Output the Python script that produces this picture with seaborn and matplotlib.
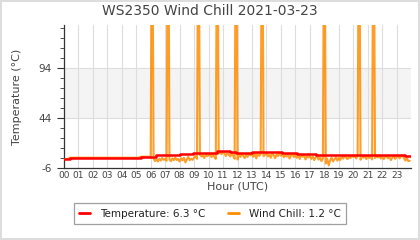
import numpy as np
import pandas as pd
import matplotlib
matplotlib.use("Agg")
import matplotlib.pyplot as plt
import seaborn as sns
from matplotlib.ticker import FixedLocator
from matplotlib.lines import Line2D

# ---- data ----
title = "WS2350 Wind Chill 2021-03-23"
hour_labels = [f"{h:02d}" for h in range(24)]
y_ticks = [-6, 44, 94]

temp_hours = [0, 0.4, 5.3, 6.4, 8.0, 8.9, 10.6, 11.5, 11.9, 13.0, 15.1, 16.1, 17.45, 23.55, 24]
temp_values = [3.0, 4.3, 5.3, 6.7, 7.7, 9.0, 11.0, 10.3, 9.0, 10.0, 9.0, 8.3, 7.3, 6.3, 6.3]

# wind chill, 10 samples per hour
wc_values = [
    3.0, 3.0, 3.0, 3.0, 4.3, 4.3, 4.3, 4.3, 4.3, 4.3,      # 00
    4.3, 4.3, 4.3, 4.3, 4.3, 4.3, 4.3, 4.3, 4.3, 4.3,      # 01
    4.3, 4.3, 4.3, 4.3, 4.3, 4.3, 4.3, 4.3, 4.3, 4.3,      # 02
    4.3, 4.3, 4.3, 4.3, 4.3, 4.3, 4.3, 4.3, 4.3, 4.3,      # 03
    4.3, 4.3, 4.3, 4.3, 4.3, 4.3, 4.3, 4.3, 4.3, 4.3,      # 04
    4.3, 4.3, 4.3, 5.3, 5.3, 5.3, 5.3, 5.3, 5.3, 5.3,      # 05
    4.1, 320, 3.5, 1.0, 2.8, 0.5, 3.2, 1.5, 4.0, 2.2,      # 06
    3.0, 1.2, 320, 2.5, 0.8, 3.6, 1.9, 4.4, 2.0, 3.1,      # 07
    0.5, 3.8, 1.6, 4.2, -0.5, 2.9, 5.1, 1.8, 3.3, 2.1,     # 08
    4.5, 6.0, 3.1, 320, 7.2, 5.5, 6.8, 4.0, 7.5, 5.8,      # 09
    6.5, 8.1, 4.9, 7.0, 5.2, 3.0, 320, 8.5, 9.6, 7.8,      # 10
    10.2, 8.6, 6.0, 9.1, 7.4, 5.5, 8.8, 6.3, 3.2, 320,     # 11
    2.5, 7.6, 5.1, 8.0, 6.2, 3.9, 7.3, 5.0, 8.4, 6.6,      # 12
    7.9, 5.3, 8.8, 3.6, 9.2, 6.1, 8.0, 320, 5.8, 7.1,      # 13
    9.0, 5.6, 7.4, 4.3, 8.5, 6.9, 3.8, 7.7, 5.9, 8.9,      # 14
    6.3, 8.4, 4.7, 7.1, 5.4, 8.2, 3.4, 6.6, 7.9, 5.0,      # 15
    7.0, 4.2, 6.4, 3.0, 7.5, 5.2, 6.9, 2.6, 5.8, 4.5,      # 16
    6.2, 3.1, 5.5, 1.9, 4.6, 6.0, 2.4, 4.8, 0.9, 3.5,      # 17
    320, -1.5, 3.2, -3.4, 1.8, 4.4, 0.6, 2.7, 5.0, 1.3,    # 18
    4.1, 2.0, 5.6, 3.3, 6.0, 4.7, 2.9, 5.3, 3.8, 6.2,      # 19
    5.0, 6.4, 3.5, 5.9, 320, 2.2, 6.1, 4.3, 5.7, 3.0,      # 20
    6.0, 4.1, 5.4, 2.6, 320, 3.9, 5.8, 4.6, 6.3, 3.4,      # 21
    5.5, 2.8, 4.9, 6.1, 3.7, 5.2, 1.9, 4.4, 6.0, 3.2,      # 22
    5.1, 6.2, 3.6, 5.7, 6.5, 4.0, 1.5, 3.8, 0.9, 1.2,      # 23
]
wc_hours = np.arange(len(wc_values)) / 10.0

current_temp = 6.3
current_wc = 1.2

# ---- plot ----
sns.set_style("white")
plt.rcParams['font.family'] = ['DejaVu Sans']

fig = plt.figure(figsize=(4.2, 2.4), dpi=100)
fig.patch.set_edgecolor('#dddddd')
fig.patch.set_linewidth(1.5)
ax = fig.add_axes([0.152, 0.30, 0.827, 0.596])

ax.axhspan(44, 94, color='#f4f4f4', zorder=0, lw=0)

wc_df = pd.DataFrame({"hour": wc_hours, "wc": wc_values})
temp_df = pd.DataFrame({"hour": temp_hours, "temp": temp_values})

sns.lineplot(data=wc_df, x="hour", y="wc", ax=ax, color='#ff8c00', lw=1.5,
             alpha=0.85, estimator=None, sort=False, zorder=3)
sns.lineplot(data=temp_df, x="hour", y="temp", ax=ax, color='#ff0000', lw=1.8,
             drawstyle='steps-post', estimator=None, sort=False, zorder=4)

ax.set_xlim(0, 24)
ax.set_ylim(-6, 137)

ax.set_xticks(range(24))
ax.set_xticklabels(hour_labels, fontsize=6.5, color='#444444')
ax.set_yticks(y_ticks)
ax.set_yticklabels([str(v) for v in y_ticks], fontsize=7.5, color='#444444')
ax.yaxis.set_minor_locator(FixedLocator(np.arange(-6, 137, 10)))

ax.tick_params(axis='x', length=0, pad=2)
ax.tick_params(axis='y', which='major', length=5, width=0.8, color='#333333', direction='out', left=True)
ax.tick_params(axis='y', which='minor', length=3, width=0.6, color='#333333', direction='out', left=True)

ax.grid(axis='x', color='#dddddd', lw=0.8)
for v in [44, 94]:
    ax.axhline(v, color='#dddddd', lw=0.8, zorder=1)

for s in ['top', 'right']:
    ax.spines[s].set_visible(False)
ax.spines['left'].set_color('#333333')
ax.spines['bottom'].set_color('#333333')
ax.spines['left'].set_linewidth(0.9)
ax.spines['bottom'].set_linewidth(0.9)

ax.set_xlabel("Hour (UTC)", fontsize=8, color='#444444', labelpad=1)
ax.set_ylabel("Temperature (°C)", fontsize=8, color='#444444', labelpad=12)
fig.text(0.5, 0.955, title, ha='center', va='center', fontsize=10, color='#444444')

labels = [f"Temperature: {current_temp} °C", f"Wind Chill: {current_wc} °C"]
handles = [Line2D([], [], color='#ff0000', lw=2), Line2D([], [], color='#ff8c00', lw=2)]
leg = fig.legend(handles, labels, loc='center', bbox_to_anchor=(0.5, 0.11), ncol=2,
                 fontsize=7.5, frameon=True, fancybox=False, handlelength=1.0,
                 columnspacing=2.2, handletextpad=1.0, borderpad=0.5)
leg.get_frame().set_edgecolor('#888888')
leg.get_frame().set_linewidth(0.9)
for t in leg.get_texts():
    t.set_color('#222222')

fig.savefig("out.png", dpi=100)
